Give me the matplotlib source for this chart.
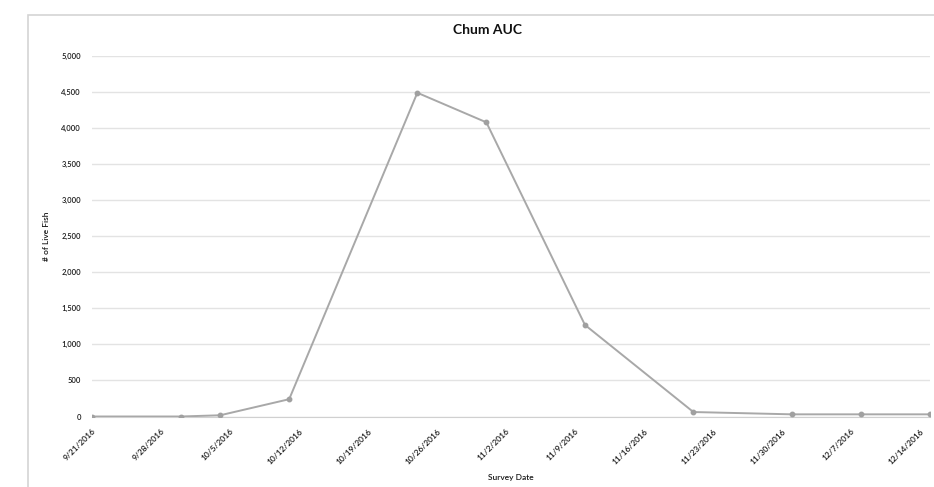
import matplotlib
matplotlib.use("Agg")
import matplotlib.pyplot as plt
import pandas as pd
from matplotlib.patches import Rectangle

plt.rcParams['font.family'] = ['Lato', 'DejaVu Sans']

# survey dates and live fish counts
survey_dates = ["2016-09-21", "2016-09-30", "2016-10-04", "2016-10-11", "2016-10-24",
                "2016-10-31", "2016-11-10", "2016-11-21", "2016-12-01", "2016-12-08",
                "2016-12-15"]
live_fish = [0, 0, 17, 240, 4490, 4080, 1270, 62, 30, 30, 30]

tick_labels = ["9/21/2016", "9/28/2016", "10/5/2016", "10/12/2016", "10/19/2016",
               "10/26/2016", "11/2/2016", "11/9/2016", "11/16/2016", "11/23/2016",
               "11/30/2016", "12/7/2016", "12/14/2016"]
y_ticks = [0, 500, 1000, 1500, 2000, 2500, 3000, 3500, 4000, 4500, 5000]

dates = pd.to_datetime(survey_dates)
tick_dates = pd.to_datetime(tick_labels, format="%m/%d/%Y")

fig = plt.figure(figsize=(9.34, 4.87), dpi=100)

# frame around the chart area
fig.patches.append(Rectangle((28 / 934, -0.1), 1.0, (487 - 15) / 487 + 0.1,
                             transform=fig.transFigure, fill=False,
                             edgecolor="#d4d4d4", linewidth=1.2))

ax = fig.add_axes([92 / 934, 70.5 / 487, 838 / 934, 360.5 / 487])

ax.plot(dates, live_fish, color="#a8a8a8", linewidth=1.4, marker="o",
        markersize=3.2, markerfacecolor="#a0a0a0", markeredgecolor="#a0a0a0",
        zorder=3)

text_kw = dict(color="#1a1a1a", fontweight="semibold")

ax.set_ylim(0, 5000)
ax.set_xlim(dates[0], dates[-1])
ax.set_yticks(y_ticks)
ax.set_yticklabels([f"{v:,}" for v in y_ticks], fontsize=5.5, **text_kw)
ax.set_xticks(tick_dates)
ax.set_xticklabels(tick_labels, fontsize=6, rotation=45,
                   ha="right", rotation_mode="anchor", **text_kw)
ax.tick_params(axis="both", length=0, pad=8)

ax.grid(axis="y", color="#e3e3e3", linewidth=1.0)
ax.set_axisbelow(True)
for side in ["top", "right", "left"]:
    ax.spines[side].set_visible(False)
ax.spines["bottom"].set_color("#d0d0d0")

fig.text(487 / 934, 1 - 30 / 487, "Chum AUC", fontsize=10, fontweight="bold",
         color="#111111", ha="center", va="center")
ax.set_xlabel("Survey Date", fontsize=6, labelpad=6, **text_kw)
ax.set_ylabel("# of Live Fish", fontsize=6, labelpad=8, **text_kw)

fig.savefig("out.png", dpi=100)
